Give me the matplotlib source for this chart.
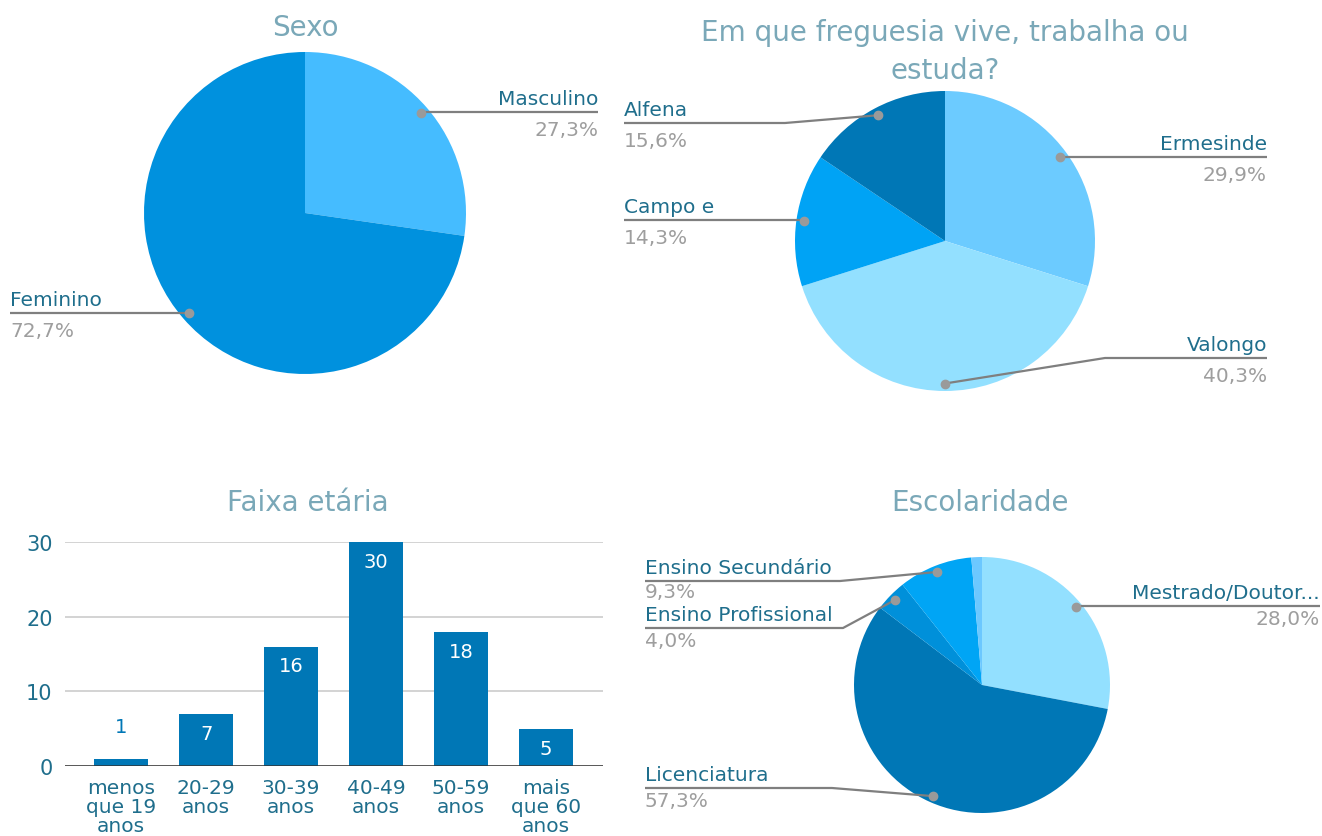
import numpy as np
import matplotlib
matplotlib.use("Agg")
import matplotlib.pyplot as plt

# Dados
sexo_labels = ["Masculino", "Feminino"]
sexo_vals = [21, 56]

freg_labels = ["Ermesinde", "Valongo", "Campo e", "Alfena"]
freg_vals = [23, 31, 11, 12]

idade_labels = ["menos\nque 19\nanos", "20-29\nanos", "30-39\nanos", "40-49\nanos", "50-59\nanos", "mais\nque 60\nanos"]
idade_vals = [1, 7, 16, 30, 18, 5]

esc_labels = ["Mestrado/Doutor...", "Licenciatura", "Ensino Profissional", "Ensino Secundário", "Outro"]
esc_vals = [21, 43, 3, 7, 1]

# Estilo
W, H = 1322, 837
TITLE_C = "#7AA8B8"
LABEL_C = "#1F6E8C"
PCT_C = "#9E9E9E"
LINE_C = "#7F7F7F"
DOT_C = "#9A9A9A"
BAR_C = "#0077B6"

plt.rcParams["font.family"] = ["DejaVu Sans"]

fig = plt.figure(figsize=(W / 100, H / 100), dpi=100)
ov = fig.add_axes([0, 0, 1, 1], zorder=10)
ov.set_xlim(0, W)
ov.set_ylim(H, 0)
ov.axis("off")
ov.patch.set_alpha(0)


def pct(v, tot):
    return f"{v / tot * 100:.1f}".replace(".", ",") + "%"


def draw_pie(vals, colors, cx, cy, r):
    ax = fig.add_axes([(cx - r) / W, 1 - (cy + r) / H, 2 * r / W, 2 * r / H])
    wedges, _ = ax.pie(vals, colors=colors, startangle=90, counterclock=False,
                       radius=1, wedgeprops=dict(linewidth=0))
    ax.set_xlim(-1, 1)
    ax.set_ylim(-1, 1)
    ax.axis("off")
    dots = []
    for w in wedges:
        a = np.deg2rad((w.theta1 + w.theta2) / 2)
        dots.append((cx + 0.95 * r * np.cos(a), cy - 0.95 * r * np.sin(a)))
    return dots


def label(dot, text, p, side, x_edge, y_line, knee=None, gap=8):
    if knee is None:
        knee = dot[0]
    ov.plot([x_edge, knee, dot[0]], [y_line, y_line, dot[1]], color=LINE_C, lw=1.6,
            solid_capstyle="butt")
    ov.plot(dot[0], dot[1], "o", color=DOT_C, ms=6)
    ha = "left" if side == "left" else "right"
    ov.text(x_edge, y_line - 4, text, ha=ha, va="bottom", fontsize=14.5, color=LABEL_C)
    ov.text(x_edge, y_line + gap, p, ha=ha, va="top", fontsize=14.5, color=PCT_C)


# 1. Sexo
ov.text(305, 28, "Sexo", ha="center", va="center", fontsize=20, color=TITLE_C)
d = draw_pie(sexo_vals, ["#45BCFF", "#0091DE"], 305, 214, 161)
t = sum(sexo_vals)
label(d[0], sexo_labels[0], pct(sexo_vals[0], t), "right", 598, 113)
label(d[1], sexo_labels[1], pct(sexo_vals[1], t), "left", 10, 314)

# 2. Freguesia
ov.text(945, 52, "Em que freguesia vive, trabalha ou\nestuda?", ha="center", va="center",
        fontsize=20, color=TITLE_C, linespacing=1.45)
d = draw_pie(freg_vals, ["#6CCBFF", "#93E0FF", "#00A3F5", "#0077B6"], 945, 242, 150)
t = sum(freg_vals)
label(d[0], freg_labels[0], pct(freg_vals[0], t), "right", 1267, 158)
label(d[1], freg_labels[1], pct(freg_vals[1], t), "right", 1267, 359, knee=1105)
label(d[2], freg_labels[2], pct(freg_vals[2], t), "left", 624, 221)
label(d[3], freg_labels[3], pct(freg_vals[3], t), "left", 624, 124, knee=785)

# 3. Faixa etaria
ax = fig.add_axes([65 / W, 1 - 767 / H, 538 / W, 224 / H])
x = np.arange(len(idade_vals))
bars = ax.bar(x, idade_vals, width=0.64, color=BAR_C, zorder=3)
ax.set_xlim(-0.66, 5.67)
ax.set_ylim(0, 30)
ax.set_yticks([0, 10, 20, 30])
ax.set_xticks(x)
ax.set_xticklabels(idade_labels, fontsize=14.5, color=LABEL_C, linespacing=1.0)
ax.tick_params(axis="y", length=0, labelsize=15, labelcolor=LABEL_C, pad=9)
ax.tick_params(axis="x", length=0, pad=9)
for s in ax.spines.values():
    s.set_visible(False)
ax.grid(axis="y", color="#CCCCCC", lw=1.2, zorder=0)
ax.axhline(0, color="#333333", lw=1.8, zorder=4)
for xi, v in zip(x, idade_vals):
    if v >= 3:
        ax.annotate(str(v), (xi, v), xytext=(0, -14), textcoords="offset points",
                    ha="center", va="center", color="white", fontsize=14)
    else:
        ax.annotate(str(v), (xi, v), xytext=(0, 23), textcoords="offset points",
                    ha="center", va="center", color=BAR_C, fontsize=14)
ov.text(308, 503, "Faixa etária", ha="center", va="center", fontsize=20, color=TITLE_C)

# 4. Escolaridade
ov.text(980, 503, "Escolaridade", ha="center", va="center", fontsize=20, color=TITLE_C)
d = draw_pie(esc_vals, ["#93E0FF", "#0077B6", "#0090DA", "#00A5F5", "#6CC8FF"], 982, 686, 128)
t = sum(esc_vals)
label(d[0], esc_labels[0], pct(esc_vals[0], t), "right", 1320, 607, gap=3)
label(d[1], esc_labels[1], pct(esc_vals[1], t), "left", 645, 789, knee=832, gap=3)
label(d[2], esc_labels[2], pct(esc_vals[2], t), "left", 645, 629, knee=843, gap=3)
label(d[3], esc_labels[3], pct(esc_vals[3], t), "left", 645, 582, knee=840, gap=1)

fig.savefig("out.png", dpi=100)
